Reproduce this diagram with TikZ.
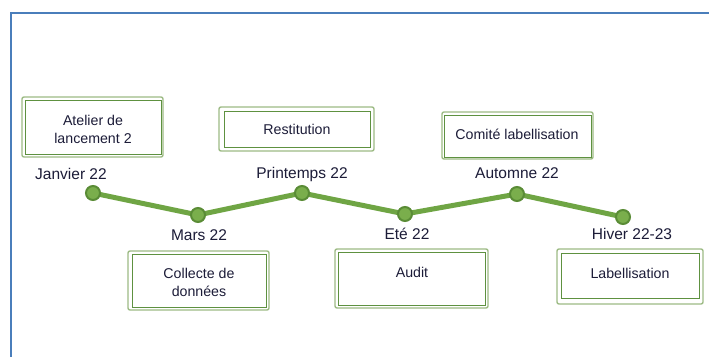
\documentclass[tikz,border=0pt]{standalone}
\usepackage{fontspec}
\setmainfont{Liberation Sans}
\usetikzlibrary{fit}
\definecolor{frameblue}{HTML}{4A7EBB}
\definecolor{outergreen}{HTML}{9DBB85}
\definecolor{innergreen}{HTML}{5E9140}
\definecolor{linegreen}{HTML}{6FA544}
\definecolor{dotfill}{HTML}{7AAE4C}
\definecolor{dotborder}{HTML}{5A8C36}
\definecolor{txt}{HTML}{1C1C38}
\tikzset{
  obox/.style={draw=outergreen, line width=1.4pt, rounded corners=2pt, inner sep=0pt},
  ibox/.style={draw=innergreen, line width=1pt, inner sep=0pt},
  boxtext/.style={text=txt, font=\fontsize{14.2}{18}\selectfont, align=center, inner sep=0pt},
  datetext/.style={text=txt, font=\fontsize{15.5}{18}\selectfont, inner sep=0pt},
  dot/.style={circle, fill=dotfill, draw=dotborder, line width=2pt, minimum size=14pt, inner sep=0pt},
  tline/.style={draw=linegreen, line width=5pt, line join=round}
}
\begin{document}
\begin{tikzpicture}[x=1pt,y=-1pt]
\useasboundingbox (0,0) rectangle (709,356);
\fill[white] (0,0) rectangle (709,356);
% blue frame
\draw[frameblue, line width=2.2pt] (11,360) -- (11,13) -- (715,13);

% boxes
\node[obox, fit={(22,97)(163,157)}] (o1) {};
\node[ibox, fit={(25,100)(161,154)}] (i1) {};
\node[obox, fit={(219,107)(374,151)}] (o2) {};
\node[ibox, fit={(224,111)(370,147)}] (i2) {};
\node[obox, fit={(442,112)(593,159)}] (o3) {};
\node[ibox, fit={(444,115)(591,157)}] (i3) {};
\node[obox, fit={(128,251)(269,310)}] (o4) {};
\node[ibox, fit={(132,254)(266,307)}] (i4) {};
\node[obox, fit={(335,249)(488,308)}] (o5) {};
\node[ibox, fit={(338,252)(485,305)}] (i5) {};
\node[obox, fit={(557,249)(703,304)}] (o6) {};
\node[ibox, fit={(561,253)(699,298)}] (i6) {};

% box texts
\node[boxtext] (t1) at (93,129) {Atelier de\\lancement 2};
\node[boxtext] (t2) at (297,129) {Restitution};
\node[boxtext] (t3) at (517,134) {Comité labellisation};
\node[boxtext] (t4) at (199,282) {Collecte de\\données};
\node[boxtext] (t5) at (412,272) {Audit};
\node[boxtext] (t6) at (630,273) {Labellisation};

% timeline
\coordinate (c1) at (93,193);
\coordinate (c2) at (198,215);
\coordinate (c3) at (302,193);
\coordinate (c4) at (405,214);
\coordinate (c5) at (517,194);
\coordinate (c6) at (623,217);
\draw[tline] (c1) -- (c2) -- (c3) -- (c4) -- (c5) -- (c6);
\node[dot] (p1) at (c1) {};
\node[dot] (p2) at (c2) {};
\node[dot] (p3) at (c3) {};
\node[dot] (p4) at (c4) {};
\node[dot] (p5) at (c5) {};
\node[dot] (p6) at (c6) {};

% dates
\node[datetext] (d1) at (71,174) {Janvier 22};
\node[datetext] (d2) at (199,235) {Mars 22};
\node[datetext] (d3) at (302,174) {Printemps 22};
\node[datetext] (d4) at (407,234) {Eté 22};
\node[datetext] (d5) at (517,173) {Automne 22};
\node[datetext] (d6) at (632,234) {Hiver 22-23};
\end{tikzpicture}
\end{document}
